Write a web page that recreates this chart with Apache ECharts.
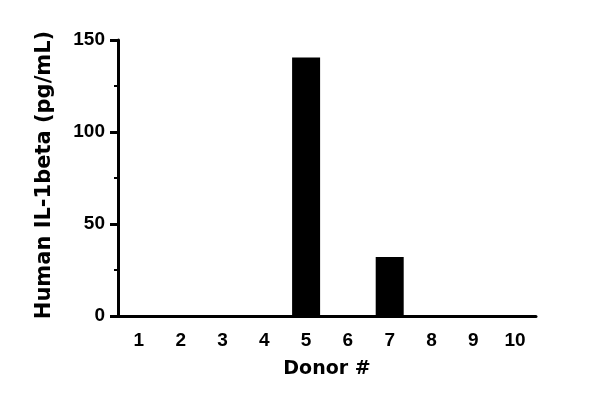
<!DOCTYPE html>
<html>
<head>
<meta charset="utf-8">
<script src="https://cdn.jsdelivr.net/npm/echarts@6/dist/echarts.min.js"></script>
<style>
  html, body { margin: 0; padding: 0; background: #fff; }
  #chart { width: 600px; height: 403px; }
</style>
</head>
<body>
<div id="chart"></div>
<script>
// donors and measured values (pg/mL)
var donors = ['1', '2', '3', '4', '5', '6', '7', '8', '9', '10'];
var values = [0, 0, 0, 0, 140.5, 0, 32, 0, 0, 0];
var yTicks = [0, 50, 100, 150];

var chart = echarts.init(document.getElementById('chart'));
var numFont = 'Liberation Sans';
var titleFont = 'DejaVu Sans';

var option = {
    animation: false,
    grid: {
        left: 118,
        right: 64,
        top: 40,
        bottom: 87
    },
    xAxis: {
        type: 'category',
        data: donors,
        name: 'Donor #',
        nameLocation: 'middle',
        nameGap: 44,
        nameTextStyle: { color: '#000', fontSize: 19, fontWeight: 'bold', fontFamily: titleFont },
        axisLine: { lineStyle: { color: '#000', width: 3 } },
        axisTick: { alignWithLabel: true, length: 8, lineStyle: { color: '#000', width: 3 } },
        axisLabel: { color: '#000', fontSize: 19, fontWeight: 'bold', fontFamily: numFont, margin: 15 }
    },
    yAxis: {
        type: 'value',
        min: yTicks[0],
        max: yTicks[yTicks.length - 1],
        interval: 50,
        name: 'Human IL-1beta (pg/mL)',
        nameLocation: 'middle',
        nameGap: 63,
        nameTextStyle: { color: '#000', fontSize: 21, fontWeight: 'bold', fontFamily: titleFont, padding: [0, 0, 0, 6] },
        axisLine: { show: true, lineStyle: { color: '#000', width: 3 } },
        axisTick: { show: true, length: 8, lineStyle: { color: '#000', width: 3 } },
        minorTick: { show: true, splitNumber: 2, length: 4, lineStyle: { color: '#000', width: 2 } },
        splitLine: { show: false },
        axisLabel: { color: '#000', fontSize: 19, fontWeight: 'bold', fontFamily: numFont, margin: 13 }
    },
    series: [{
        type: 'bar',
        data: values,
        barWidth: 28,
        itemStyle: { color: '#000' }
    }]
};
chart.setOption(option);
</script>
</body>
</html>
